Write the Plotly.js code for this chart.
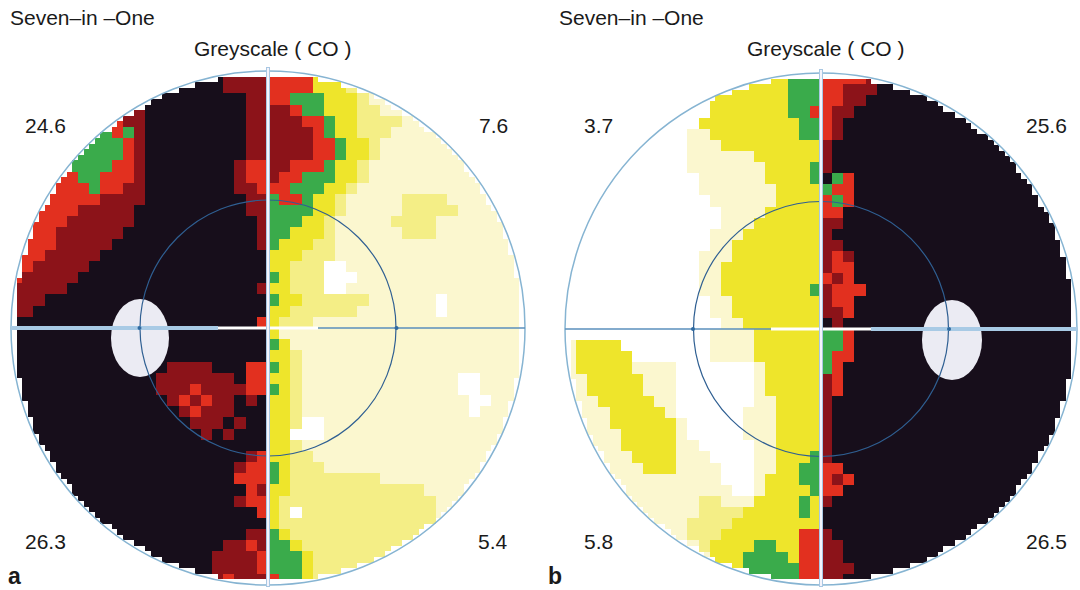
<!DOCTYPE html>
<html>
<head>
<meta charset="utf-8">
<script src="https://cdn.plot.ly/plotly-3.0.1.min.js"></script>
<style>
  html, body { margin: 0; padding: 0; background: #ffffff; }
  #chart { width: 1080px; height: 590px; }
</style>
</head>
<body>
<div id="chart"></div>
<script>
// Grey-scale classes, lightest to darkest (index = class value)
const classCodes  = ['W', 'P', 'M', 'Y', 'G', 'R', 'D', 'K'];
const classColors = ['#ffffff', '#fbf7cf', '#f4ee86', '#eee52b', '#3aab4b', '#e2301f', '#8c1319', '#170e1b'];

// Field a: 46 rows, each "left half | right half", run-length coded (letter + count)
const fieldA = [
  'K19 D4 | R4 Y2 P17',
  'K19 D4 | R4 Y3 M P15',
  'K21 D2 | R2 G3 Y3 M P14',
  'K11 D K9 D2 | D2 R G2 Y3 M2 P13',
  'K9 R D2 K9 D2 | D3 R2 G Y2 M4 P11',
  'K8 G R G D K9 D2 | D4 R G Y2 M3 P12',
  'K7 G3 R D K9 D2 | D4 R2 G Y2 M P13',
  'K6 G4 R D K9 D2 | D4 R2 G Y2 M P13',
  'K5 G4 R2 D K8 D R2 | D2 R3 G Y2 M P14',
  'K4 R2 G2 R3 D K8 D R2 | D R2 G3 Y2 M P14',
  'K4 R3 G R2 D2 K8 D2 R | R2 G3 Y2 M P15',
  'K3 R5 D4 K9 D2 | G R2 G Y2 M P5 M4 P7',
  'K2 R4 D5 K10 D2 | G4 Y2 M P5 M5 P6',
  'K2 R3 D6 K11 D | G3 Y2 M P5 M4 P8',
  'K2 R2 D6 K12 D | G2 Y3 M P6 M3 P8',
  'K R3 D5 K13 D | G Y3 M2 P17',
  'K R2 D5 K15 | Y3 M3 P17',
  'K R D5 K16 | Y2 M3 W2 P16',
  'R D5 K17 | G Y M3 W3 P15',
  'D5 K17 D | Y2 M3 W2 P16',
  'D3 K20 | G Y2 M6 P6 W P7',
  'D2 K21 | Y2 M6 P7 W P7',
  'K22 R | Y M3 P19',
  'K23 | Y P22',
  'K23 | G Y P21',
  'K23 | Y2 M P20',
  'K14 D4 K3 R2 | G Y M P20',
  'K13 D7 K R2 | Y2 M P14 W2 P4',
  'K13 D3 R D4 R2 | G Y M P14 W2 P4',
  'K14 D R D R D2 K D K | Y2 M P15 W2 P3',
  'K15 D R D3 K3 | Y2 M P15 W P4',
  'K16 D3 K D K2 | Y2 M W2 P18',
  'K17 D K D K3 | Y2 W3 P18',
  'K23 | Y2 M P20',
  'K21 D R | Y2 M2 P19',
  'K20 D R2 | G Y M3 P18',
  'K20 R3 | G Y M8 P13',
  'K21 R D | Y2 M12 P9',
  'K20 D R2 | Y M14 P8',
  'K22 R | Y M W M12 P8',
  'K23 | Y M14 P8',
  'K21 D2 | G Y M12 P9',
  'K19 D2 R D | G2 Y M11 P9',
  'K18 D4 R | G3 Y M10 P9',
  'K18 D4 R | G3 Y M8 P11',
  'K18 D R D3 | R G2 Y M5 P14'
];

// Field b: same coding
const fieldB = [
  'W18 Y2 G3 | R4 D K18',
  'W15 Y5 G3 | R2 D3 K18',
  'W13 Y7 G3 | R2 D2 K19',
  'W13 Y7 G2 R | R D2 K20',
  'W12 Y9 G2 | R D K21',
  'W11 P2 Y8 G2 | R D K21',
  'W11 P3 Y9 | D K22',
  'W11 P6 Y6 | D K22',
  'W11 P7 Y4 G | D K22',
  'W12 P6 Y4 G | K G R K20',
  'W12 P7 Y4 | G R2 K20',
  'W13 P6 Y4 | R G R K20',
  'W14 P4 Y5 | R2 K21',
  'W14 P3 Y6 | D2 K21',
  'W13 P3 Y7 | D K22',
  'W13 P2 Y8 | D2 K21',
  'W12 P3 Y8 | D R D K20',
  'W12 P2 Y9 | D R2 K20',
  'W12 P2 Y9 | R D R K20',
  'W12 P2 Y8 G | D R3 K19',
  'W13 P2 Y8 | D R2 K20',
  'W13 P2 Y8 | D2 R K20',
  'W14 P2 Y7 | K D K21',
  'W13 P4 Y6 | G2 R K20',
  'P Y4 W8 P4 Y6 | G2 R K20',
  'P Y5 W7 P4 Y6 | G R2 K20',
  'P Y5 P4 W7 P Y5 | G R K21',
  'P2 Y5 P3 W7 P Y5 | D R K21',
  'P2 Y5 P3 W7 P Y5 | D R K21',
  'P3 Y5 P2 W7 P2 Y4 | D K22',
  'P4 Y5 P W6 P3 Y4 | D K22',
  'P4 Y6 P W5 P3 Y4 | D K22',
  'P5 Y5 P W5 P3 Y4 | D K22',
  'P5 Y5 P2 W5 P2 Y4 | D K22',
  'P6 Y4 P3 W4 P2 Y3 G | D K22',
  'P7 Y3 P4 W3 P2 Y2 G2 | R2 K21',
  'P14 W3 P Y3 G2 | R D R K20',
  'P15 W2 P Y4 G | R2 K21',
  'P12 M2 P3 Y4 G Y | D K22',
  'P12 M4 Y5 G Y | K23',
  'P11 M4 Y8 | K23',
  'P11 M3 Y7 R2 | D K22',
  'P12 M Y4 G2 Y2 R2 | D2 K21',
  'P13 Y3 G4 Y R2 | D2 K21',
  'P13 Y3 G5 R2 | D3 K20',
  'P14 Y G6 R2 | D2 K21'
];

// Corner values of each field (upper-left, upper-right, lower-left, lower-right)
const valuesA = ['24.6', '7.6', '26.3', '5.4'];
const valuesB = ['3.7', '25.6', '5.8', '26.5'];
const panelLetters = ['a', 'b'];
const headerText = 'Seven–in –One';
const titleText = 'Greyscale ( CO )';

const N = 46, HALF = 23, SUB = 2;   // each test cell is drawn as SUB x SUB raster points

function decodeHalf(s, fromRight) {
  let out = '';
  const re = /([A-Z])(\d*)/g;
  let m;
  while ((m = re.exec(s)) !== null) out += m[1].repeat(m[2] ? parseInt(m[2], 10) : 1);
  // keep the half aligned against the vertical meridian
  if (out.length > HALF) out = fromRight ? out.slice(out.length - HALF) : out.slice(0, HALF);
  while (out.length < HALF) out = fromRight ? out[0] + out : out + out[out.length - 1];
  return out;
}

function buildGrid(rows) {
  return rows.map(row => {
    const parts = row.split('|');
    const cells = decodeHalf(parts[0], true) + decodeHalf(parts[1], false);
    return cells.split('').map(ch => classCodes.indexOf(ch));
  });
}

// Panel geometry (pixel space of the figure)
const panels = [
  { field: fieldA, values: valuesA, cx: 268, cy: 328, r: 257, side: -1,
    blind: { dx: -128, dy: 10, rx: 29, ry: 39 }, headerX: 8, letterX: 14 },
  { field: fieldB, values: valuesB, cx: 821, cy: 329, r: 256, side: 1,
    blind: { dx: 131, dy: 11, rx: 30, ry: 40 }, headerX: 557, letterX: 555 }
];

const n = classColors.length;
const colorscale = [];
classColors.forEach((c, k) => {
  colorscale.push([k / n, c]);
  colorscale.push([(k + 1) / n, c]);
});

const traces = [];
const shapes = [];
const annotations = [];
const font = { family: 'Liberation Sans, Arial, sans-serif', color: '#1a1a1a' };

panels.forEach((p, idx) => {
  const M = N * SUB;
  const w = 2 * p.r / M;
  const grid = buildGrid(p.field);
  const z = [];
  for (let j = 0; j < M; j++) {
    const row = [];
    for (let i = 0; i < M; i++) {
      const dx = (i + 0.5 - M / 2) * w;
      const dy = (j + 0.5 - M / 2) * w;
      const inside = Math.hypot(dx, dy) <= p.r - 0.55 * w;
      row.push(inside ? grid[Math.floor(j / SUB)][Math.floor(i / SUB)] : null);
    }
    z.push(row);
  }
  traces.push({
    type: 'heatmap', z: z,
    x0: p.cx - p.r + w / 2, dx: w,
    y0: p.cy - p.r + w / 2, dy: w,
    zmin: -0.5, zmax: n - 0.5,
    colorscale: colorscale, showscale: false,
    hoverinfo: 'skip', zsmooth: false
  });

  const L = { xref: 'x', yref: 'y', layer: 'above' };
  // blind spot
  shapes.push(Object.assign({ type: 'circle',
    x0: p.cx + p.blind.dx - p.blind.rx, x1: p.cx + p.blind.dx + p.blind.rx,
    y0: p.cy + p.blind.dy - p.blind.ry, y1: p.cy + p.blind.dy + p.blind.ry,
    fillcolor: '#ebebf3', line: { width: 0 } }, L));
  // outer and inner rings
  shapes.push(Object.assign({ type: 'circle',
    x0: p.cx - p.r, x1: p.cx + p.r, y0: p.cy - p.r, y1: p.cy + p.r,
    line: { color: '#86b4d2', width: 1.5 } }, L));
  shapes.push(Object.assign({ type: 'circle',
    x0: p.cx - p.r / 2 + 0.5, x1: p.cx + p.r / 2 - 0.5, y0: p.cy - p.r / 2 + 0.5, y1: p.cy + p.r / 2 - 0.5,
    line: { color: '#2f5f92', width: 1.2 } }, L));
  // horizontal meridian
  shapes.push(Object.assign({ type: 'line',
    x0: p.cx - p.r, x1: p.cx + p.r, y0: p.cy, y1: p.cy,
    line: { color: '#5a8fbd', width: 1.5 } }, L));
  shapes.push(Object.assign({ type: 'line',
    x0: p.cx + p.side * p.r, x1: p.cx + p.side * 50, y0: p.cy, y1: p.cy,
    line: { color: '#a8cae5', width: 4 } }, L));
  shapes.push(Object.assign({ type: 'line',
    x0: p.cx - 50, x1: p.cx + 50, y0: p.cy, y1: p.cy,
    line: { color: '#ffffff', width: 3 } }, L));
  // vertical meridian
  shapes.push(Object.assign({ type: 'line',
    x0: p.cx, x1: p.cx, y0: p.cy - p.r - 4, y1: p.cy + p.r + 2,
    line: { color: '#a9c7e2', width: 4 } }, L));
  shapes.push(Object.assign({ type: 'line',
    x0: p.cx, x1: p.cx, y0: p.cy - p.r - 3, y1: p.cy + p.r + 1,
    line: { color: '#f4f4fb', width: 2 } }, L));
  // small marks where the inner ring meets the horizontal meridian
  [-1, 1].forEach(s => {
    const mx = p.cx + s * p.r / 2;
    shapes.push(Object.assign({ type: 'circle',
      x0: mx - 2, x1: mx + 2, y0: p.cy - 2, y1: p.cy + 2,
      fillcolor: '#2f6aa0', line: { width: 0 } }, L));
  });

  const A = { xref: 'x', yref: 'y', showarrow: false, yanchor: 'middle' };
  annotations.push(Object.assign({ x: p.headerX, y: 17, xanchor: 'left', text: headerText,
    font: Object.assign({ size: 21 }, font) }, A));
  annotations.push(Object.assign({ x: p.cx + 5, y: 48, xanchor: 'center', text: titleText,
    font: Object.assign({ size: 21 }, font) }, A));
  const qx = [p.cx - 223, p.cx + 225, p.cx - 223, p.cx + 225];
  const qy = [125, 125, 541, 541];
  p.values.forEach((v, k) => {
    annotations.push(Object.assign({ x: qx[k], y: qy[k], xanchor: 'center', text: v,
      font: Object.assign({ size: 21 }, font) }, A));
  });
  annotations.push(Object.assign({ x: p.letterX, y: 576, xanchor: 'center', text: '<b>' + panelLetters[idx] + '</b>',
    font: Object.assign({ size: 23 }, font) }, A));
});

const layout = {
  width: 1080, height: 590,
  margin: { l: 0, r: 0, t: 0, b: 0, pad: 0 },
  paper_bgcolor: '#ffffff', plot_bgcolor: '#ffffff',
  showlegend: false,
  xaxis: { range: [0, 1080], visible: false, fixedrange: true },
  yaxis: { range: [590, 0], visible: false, fixedrange: true },
  shapes: shapes,
  annotations: annotations
};

Plotly.newPlot('chart', traces, layout, { staticPlot: true, displayModeBar: false });
</script>
</body>
</html>
